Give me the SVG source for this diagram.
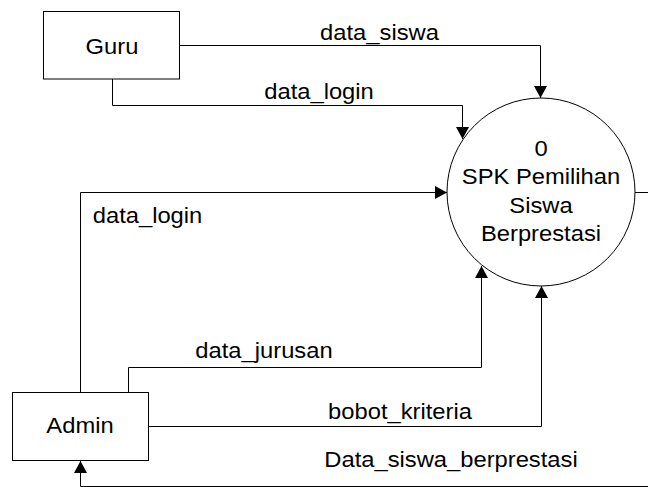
<svg xmlns="http://www.w3.org/2000/svg" width="648" height="487" viewBox="0 0 648 487">
  <style>
    .shape { fill: #ffffff; stroke: #000000; stroke-width: 1; }
    .flow { fill: none; stroke: #000000; stroke-width: 1; }
    .lbl { font-family: "Liberation Sans", Arial, sans-serif; font-size: 22px; fill: #000000; text-anchor: middle; }
  </style>
  <defs>
    <marker id="arrow" markerUnits="userSpaceOnUse" markerWidth="14" markerHeight="14" viewBox="0 0 14 14" refX="12" refY="7" orient="auto">
      <path d="M0,0.5 L12,7 L0,13.5 Z" fill="#000000"/>
    </marker>
  </defs>
  <rect width="648" height="487" fill="#ffffff"/>

  <!-- data flows -->
  <g id="connectors">
    <path class="flow" d="M179.5,45.5 H540.5 V98" marker-end="url(#arrow)"/>
    <path class="flow" d="M112.5,79 V105.5 H462.5 V139" marker-end="url(#arrow)"/>
    <path class="flow" d="M80.5,392 V192.5 H447" marker-end="url(#arrow)"/>
    <path class="flow" d="M128.5,392 V367.5 H481.5 V266" marker-end="url(#arrow)"/>
    <path class="flow" d="M148.5,426.5 H541.5 V286" marker-end="url(#arrow)"/>
    <path class="flow" d="M635,192.5 H650 V486.5 H80.5 V461" marker-end="url(#arrow)"/>
    <text class="lbl" transform="translate(379.5,40) scale(1.08,1)">data_siswa</text>
    <text class="lbl" transform="translate(319,98.5) scale(1.08,1)">data_login</text>
    <text class="lbl" transform="translate(147.5,222.5) scale(1.08,1)">data_login</text>
    <text class="lbl" transform="translate(264,358) scale(1.08,1)">data_jurusan</text>
    <text class="lbl" transform="translate(400,419) scale(1.08,1)">bobot_kriteria</text>
    <text class="lbl" transform="translate(451,467) scale(1.08,1)">Data_siswa_berprestasi</text>
  </g>

  <!-- external entity: Guru -->
  <g id="guru">
    <rect class="shape" x="43.5" y="11.5" width="136" height="67.5"/>
    <text class="lbl" transform="translate(112,54) scale(1.08,1)">Guru</text>
  </g>

  <!-- external entity: Admin -->
  <g id="admin">
    <rect class="shape" x="12.5" y="392.5" width="136" height="68"/>
    <text class="lbl" transform="translate(80,433) scale(1.08,1)">Admin</text>
  </g>

  <!-- process 0 -->
  <g id="process-0">
    <circle class="shape" cx="541" cy="192" r="94"/>
    <text class="lbl" transform="translate(541,155.5) scale(1.08,1)">0</text>
    <text class="lbl" transform="translate(541,184) scale(1.08,1)">SPK Pemilihan</text>
    <text class="lbl" transform="translate(541,212.5) scale(1.08,1)">Siswa</text>
    <text class="lbl" transform="translate(541,241) scale(1.08,1)">Berprestasi</text>
  </g>
</svg>
